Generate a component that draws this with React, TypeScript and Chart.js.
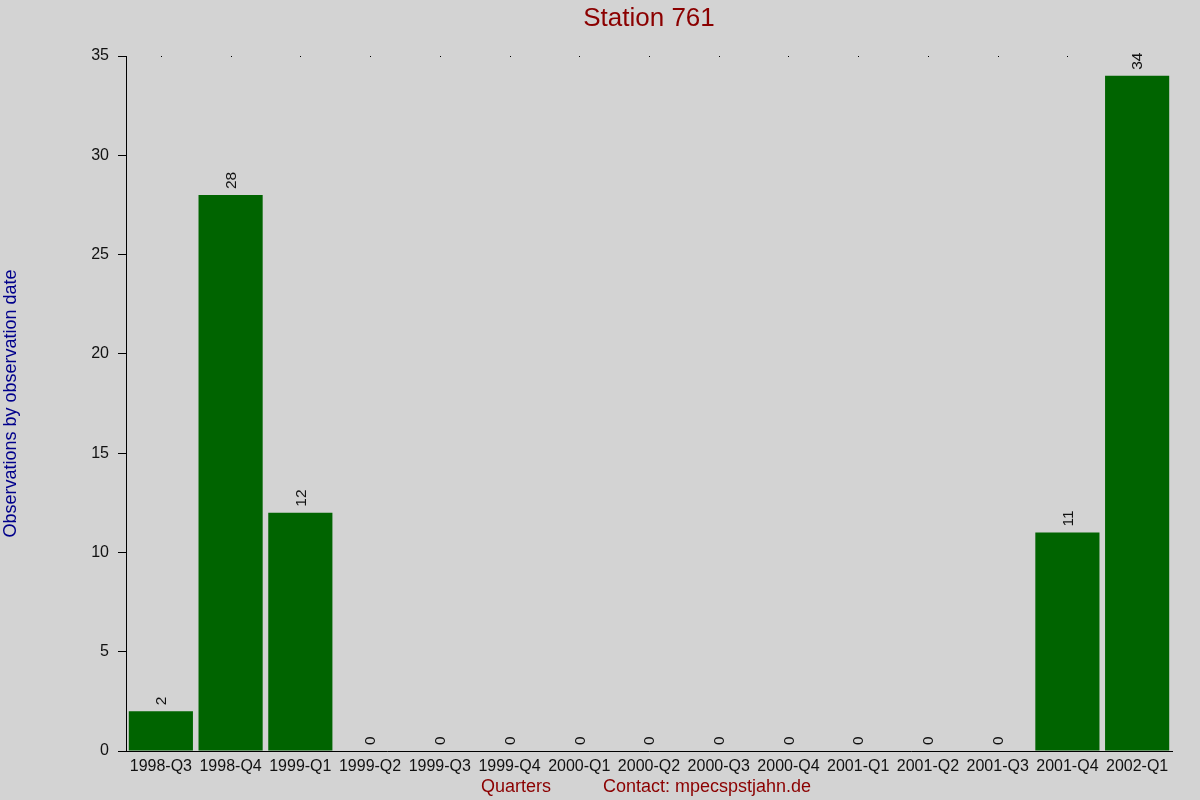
import { useEffect, useRef } from "react";
import { Chart, registerables } from "chart.js";
Chart.register(...registerables);

const quarters = [
  "1998-Q3", "1998-Q4", "1999-Q1", "1999-Q2", "1999-Q3", "1999-Q4", "2000-Q1", "2000-Q2",
  "2000-Q3", "2000-Q4", "2001-Q1", "2001-Q2", "2001-Q3", "2001-Q4", "2002-Q1",
];
const observations = [2, 28, 12, 0, 0, 0, 0, 0, 0, 0, 0, 0, 0, 11, 34];
const yTicks = [0, 5, 10, 15, 20, 25, 30, 35];

const chartTitle = "Station 761";
const yTitle = "Observations by observation date";
const xTitle = "Quarters";
const contact = "Contact: mpecspstjahn.de";

const FONT = "'Liberation Sans', Arial, sans-serif";

// background, titles, top dots and rotated value labels
const decorations = {
  id: "decorations",
  beforeDraw(chart: Chart) {
    const { ctx, width, height } = chart;
    ctx.save();
    ctx.fillStyle = "#d3d3d3";
    ctx.fillRect(0, 0, width, height);
    ctx.restore();
  },
  afterDraw(chart: Chart) {
    const { ctx, chartArea } = chart;
    const x = chart.scales.x;
    ctx.save();

    ctx.fillStyle = "#8b0000";
    ctx.font = `26px ${FONT}`;
    ctx.textAlign = "center";
    ctx.textBaseline = "middle";
    ctx.fillText(chartTitle, (chartArea.left + chartArea.right) / 2, 19);

    ctx.font = `18px ${FONT}`;
    ctx.textAlign = "left";
    ctx.fillText(xTitle, 481, 787);
    ctx.fillText(contact, 603, 787);

    ctx.save();
    ctx.fillStyle = "#00008b";
    ctx.translate(11, (chartArea.top + chartArea.bottom) / 2);
    ctx.rotate(-Math.PI / 2);
    ctx.textAlign = "center";
    ctx.fillText(yTitle, 0, 0);
    ctx.restore();

    // small dots along the top edge
    ctx.fillStyle = "#000";
    for (let i = 0; i < quarters.length - 1; i++) {
      const px = Math.round(x.getPixelForValue(i));
      ctx.fillRect(px, chartArea.top, 1, 1);
    }

    // value labels
    const meta = chart.getDatasetMeta(0);
    ctx.fillStyle = "#111";
    ctx.font = `15.5px ${FONT}`;
    ctx.textAlign = "left";
    ctx.textBaseline = "middle";
    meta.data.forEach((bar: any, i: number) => {
      ctx.save();
      ctx.translate(bar.x + 1, bar.y - 6);
      ctx.rotate(-Math.PI / 2);
      ctx.fillText(String(observations[i]), 0, 0);
      ctx.restore();
    });
    ctx.restore();
  },
};

export default function App() {
  const ref = useRef<HTMLCanvasElement | null>(null);

  useEffect(() => {
    document.body.style.margin = "0";
    if (!ref.current) return;
    const ctx = ref.current.getContext("2d");
    if (!ctx) return;

    const chart = new Chart(ctx, {
      type: "bar",
      data: {
        labels: quarters,
        datasets: [
          {
            data: observations,
            backgroundColor: "#006400",
            barPercentage: 0.92,
            categoryPercentage: 1,
          },
        ],
      },
      options: {
        responsive: false,
        animation: false,
        layout: { padding: { top: 56, right: 28, left: 0, bottom: 0 } },
        plugins: { legend: { display: false }, tooltip: { enabled: false }, title: { display: false } },
        scales: {
          x: {
            grid: { display: false, drawTicks: false },
            border: { display: true, color: "#000", width: 1 },
            ticks: { color: "#111", font: { family: FONT, size: 16 }, padding: 6, maxRotation: 0, autoSkip: false },
            afterFit: (s: any) => {
              s.height = 49;
            },
          },
          y: {
            min: 0,
            max: 35,
            afterBuildTicks: (s: any) => {
              s.ticks = yTicks.map((v) => ({ value: v }));
            },
            grid: { drawOnChartArea: false, drawTicks: true, tickLength: 8, color: "#000" },
            border: { display: true, color: "#000", width: 1 },
            ticks: { color: "#111", font: { family: FONT, size: 16 }, padding: 9 },
            afterFit: (s: any) => {
              s.width = 126;
            },
          },
        },
      },
      plugins: [decorations],
    });

    return () => chart.destroy();
  }, []);

  return (
    <div style={{ width: 1200, height: 800, background: "#d3d3d3" }}>
      <canvas ref={ref} width={1200} height={800} style={{ display: "block" }} />
    </div>
  );
}
